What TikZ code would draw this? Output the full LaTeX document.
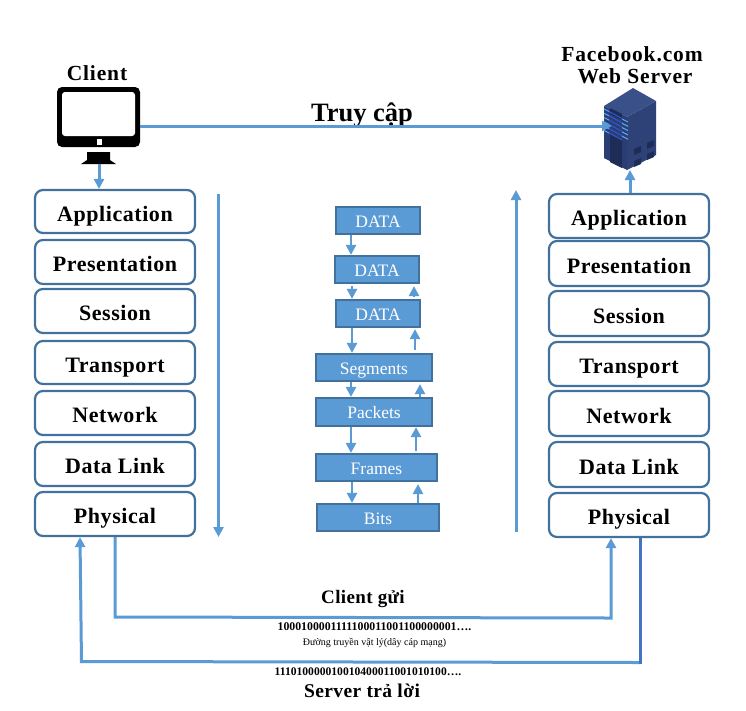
\documentclass[tikz,border=0pt]{standalone}
\usepackage{fontspec}
\setmainfont{Liberation Serif}
\usetikzlibrary{arrows.meta,calc}
\definecolor{ln}{HTML}{5B9BD5}
\definecolor{bd}{HTML}{41719C}
\definecolor{dk}{HTML}{4472C4}
\definecolor{srvtop}{RGB}{58,80,136}
\definecolor{srvleft}{RGB}{43,62,115}
\definecolor{srvright}{RGB}{47,66,120}
\definecolor{srvdark}{RGB}{30,44,88}
\definecolor{srvlight}{RGB}{90,165,235}
\definecolor{srvmid}{RGB}{47,85,200}
\tikzset{
  layer/.style={draw=bd,line width=2.2pt,rounded corners=8pt,fill=white,minimum width=160pt,inner sep=0pt,text height=19pt,text depth=0pt,font=\bfseries\fontsize{22}{24}\selectfont\addfontfeature{LetterSpace=2.5},text=black},
  pdu/.style={draw=bd,line width=2.2pt,fill=ln,inner sep=0pt,text=white,text height=13pt,text depth=0pt,font=\fontsize{17.5}{19}\selectfont},
  flow/.style={draw=ln,line width=3pt,-{Triangle[length=10pt,width=10pt]}},
  small/.style={draw=ln,line width=2.4pt,-{Triangle[length=10pt,width=10pt]}},
  wire/.style={draw=ln,line width=3pt,-{Triangle[length=10pt,width=10pt]},line join=miter},
  title/.style={font=\bfseries\fontsize{21.5}{24}\selectfont\addfontfeature{LetterSpace=4},text=black,inner sep=0pt},
  lab/.style={inner sep=0pt,text=black}
}
\begin{document}
\begin{tikzpicture}[x=1pt,y=-1pt]
\useasboundingbox (0,0) rectangle (746,710);
\fill[white] (0,0) rectangle (746,710);

% left stack
\foreach \n/\t/\ya/\yb in {la/Application/190/233,lb/Presentation/240/284,lc/Session/289/333,ld/Transport/341/384,le/Network/391/435,lf/Data Link/442/486,lg/Physical/492/536}{
  \node[layer,minimum height={\yb pt-\ya pt}] (\n) at (115,{(\ya+\yb)/2}) {\t};
}
% right stack
\foreach \n/\t/\ya/\yb in {ra/Application/194/238,rb/Presentation/241/286,rc/Session/291/336,rd/Transport/342/386,re/Network/391/436,rf/Data Link/442/487,rg/Physical/493/537}{
  \node[layer,minimum height={\yb pt-\ya pt}] (\n) at (629,{(\ya+\yb)/2}) {\t};
}

% centre
\foreach \n/\t/\xa/\ya/\xb/\yb in {d1/DATA/336/207/420/234,d2/DATA/335/256/419/283,d3/DATA/336/300/420/327,s/Segments/316/354/432/381,p/Packets/316/398/432/426,f/Frames/316/454/437/481,b/Bits/317/504/439/531}{
  \node[pdu,minimum width={\xb pt-\xa pt},minimum height={\yb pt-\ya pt}] (\n) at ({(\xa+\xb)/2},{(\ya+\yb)/2}) {\t};
}

% monitor
\fill[black,rounded corners=5pt] (57,87) rectangle (140,147);
\fill[white,rounded corners=3pt] (62,92) rectangle (135,136);
\fill[white] (97,139) rectangle (102,145);
\fill[black] (87,152) -- (110,152) -- (110,160) -- (116,164) -- (81,164) -- (87,160) -- cycle;
\coordinate (mon) at (140,126);
\coordinate (monb) at (99,164);

% server
\fill[srvtop] (633,88) -- (656,101) -- (627,117) -- (604,106) -- cycle;
\fill[srvleft] (604,106) -- (627,117) -- (627,170) -- (604,158) -- cycle;
\fill[srvright] (627,117) -- (656,101) -- (656,155) -- (627,170) -- cycle;
\fill[srvdark] (610,108) -- (622,114) -- (622,120) -- (610,114) -- cycle;
\fill[srvdark] (610,134) -- (622,140) -- (622,168) -- (610,162) -- cycle;
\foreach \i in {0,1,2,3,4,5}{
  \draw[srvmid,line width=1.1pt] (609,{111.5+\i*4.3}) -- (622,{118.5+\i*4.3});
  \draw[srvlight,line width=1.1pt] (604,{109+\i*4.3}) -- (609,{111.5+\i*4.3});
}
\foreach \i in {0,1,2,3,4}{
  \draw[srvlight,line width=1.1pt] (622,{119+\i*4.3}) -- (628,{122+\i*4.3});
}
\foreach \xx/\yy in {634/149,647/143,634/161,647/154}{
  \fill[srvdark] (\xx,\yy) -- (\xx+7,\yy-3) -- (\xx+7,\yy+3) -- (\xx,\yy+6) -- cycle;
}
\coordinate (srvl) at (612,126);
\coordinate (srvb) at (630,170);

% titles
\node[title] (tc) at (97,73) {Client};
\node[title] (tf) at (632,54) {Facebook.com};
\node[title] (tw) at (635,76) {Web Server};
\node[lab,font=\bfseries\fontsize{26.5}{28}\selectfont] (tr) at (362,115) {Truy cập};

% main connectors
\draw[flow] (mon) -- (srvl);
\draw[flow] (monb) -- (la.north -| monb);
\draw[flow] (ra.north -| srvb) -- (srvb);

% long direction arrows
\coordinate (dna) at (218.5,194);
\coordinate (dnb) at (218.5,537);
\coordinate (upa) at (516,532);
\coordinate (upb) at (516,190);
\draw[flow] (dna) -- (dnb);
\draw[flow] (upa) -- (upb);

% centre arrows down
\draw[small] (d1.south -| 351,0) -- (d2.north -| 351,0);
\draw[small] ($(d2.south -| 352,0)+(0,2)$) -- (d3.north -| 352,0);
\draw[small] (d3.south -| 352,0) -- (s.north -| 352,0);
\draw[small] (s.south -| 351,0) -- (p.north -| 351,0);
\draw[small] (p.south -| 351,0) -- (f.north -| 351,0);
\draw[small] (f.south -| 352,0) -- (b.north -| 352,0);
% centre arrows up
\draw[small] (b.north -| 418,0) -- ($(f.south -| 418,0)+(0,2)$);
\draw[small] ($(f.north -| 416,0)+(0,-2)$) -- (p.south -| 416,0);
\draw[small] (p.north -| 420,0) -- ($(s.south -| 420,0)+(0,2)$);
\draw[small] ($(s.north -| 415,0)+(0,-3)$) -- ($(d3.south -| 415,0)+(0,1)$);
\draw[small] ($(d3.north -| 414,0)+(0,-2)$) -- ($(d2.south -| 414,0)+(0,2)$);

% physical wires
\draw[wire] (lg.south -| 115,0) -- (115,617) -- (611,618) -- (rg.south -| 611,0);
\draw[draw=ln,line width=3pt] (81.5,661.5) -- (640,662.5);
\draw[draw=dk,line width=3pt] (640,664) -- (rg.south -| 640,0);
\draw[wire] (81.5,663) -- (lg.south -| 80,0);

% bottom labels
\node[lab,font=\bfseries\fontsize{19}{21}\selectfont\addfontfeature{LetterSpace=2}] (cg) at (363,599) {Client gửi};
\node[lab,font=\bfseries\fontsize{11.8}{14}\selectfont] (b1) at (374.5,627) {1000100001111100011001100000001….};
\node[lab,font=\fontsize{10}{12}\selectfont] (dt) at (374.5,643) {Đường truyền vật lý(dây cáp mạng)};
\node[lab,font=\bfseries\fontsize{11.6}{14}\selectfont] (b2) at (368,672) {111010000010010400011001010100….};
\node[lab,font=\bfseries\fontsize{19.5}{21}\selectfont\addfontfeature{LetterSpace=2}] (st) at (362,691) {Server trả lời};
\end{tikzpicture}
\end{document}
